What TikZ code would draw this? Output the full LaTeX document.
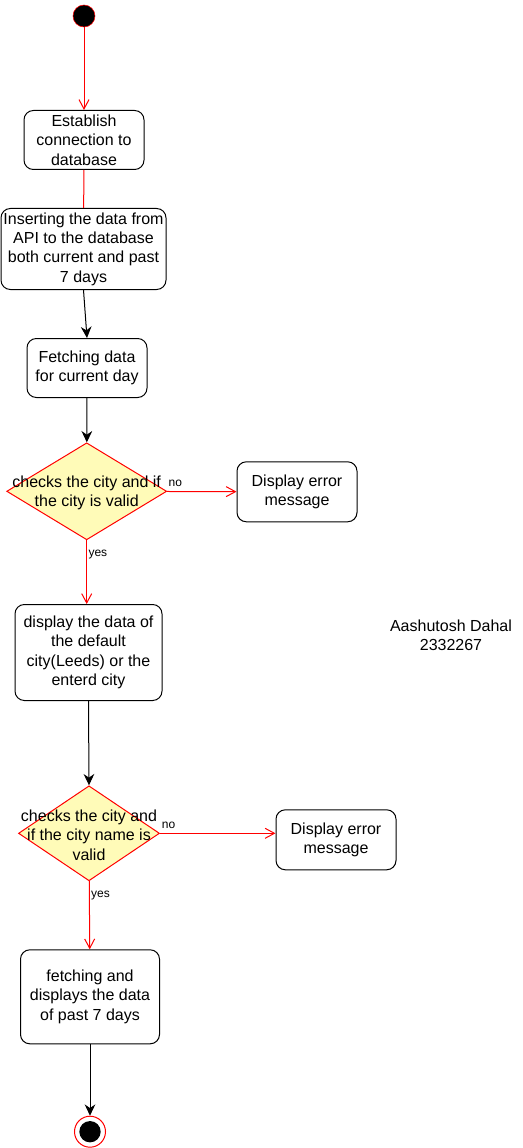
\documentclass[tikz,border=0pt]{standalone}
\usepackage{fontspec}
\setmainfont{Liberation Sans}
\usetikzlibrary{arrows.meta,shapes.geometric}

\begin{document}
\begin{tikzpicture}[x=0.75pt,y=-0.75pt,
        every node/.style={font=\fontsize{12}{14.5}\selectfont},
        act/.style={draw, rounded corners=7pt, align=center, line width=0.75pt, inner sep=0pt},
        choice/.style={draw=red, fill=yellow!28, diamond, inner sep=0pt, line width=0.75pt},
        guard/.style={font=\fontsize{9}{10}\selectfont, inner sep=1pt},
        redflow/.style={draw=red, line width=0.75pt, -{Straight Barb[length=7pt,width=7.5pt]}},
        blackflow/.style={draw=black, line width=0.75pt, -{Stealth[length=8.5pt,width=8pt]}}]
            \useasboundingbox (0,0) rectangle (522,1148);

            \node[circle, draw=red, fill=black, minimum size=16.5pt, inner sep=0pt] (start) at (84,16) {};
            \node[act, minimum width=90pt, minimum height=44.25pt] (connect) at (84,140) {Establish\\connection to\\database};
            \node[act, minimum width=123.75pt, minimum height=60.75pt] (insert) at (83.5,249) {Inserting the data from\\API to the database\\both current and past\\7 days};
            \node[act, minimum width=90pt, minimum height=44.25pt] (fetch) at (87,368) {Fetching data\\for current day};
            \node[choice, minimum width=120pt, minimum height=72.75pt] (check1) at (86.7,491.3) {};
            \node[align=center] (check1text) at (86.7,493) {checks the city and if\\the city is valid};
            \node[act, minimum width=90pt, minimum height=45pt] (error1) at (297,491.8) {Display error\\message};
            \node[act, minimum width=110.25pt, minimum height=72pt] (show) at (88.5,652.5) {display the data of\\the default\\city(Leeds) or the\\enterd city};
            \node[choice, minimum width=105.75pt, minimum height=71.25pt] (check2) at (89,833.3) {};
            \node[align=center] (check2text) at (89,835) {checks the city and\\if the city name is\\valid};
            \node[act, minimum width=90pt, minimum height=45pt] (error2) at (336,839.8) {Display error\\message};
            \node[act, minimum width=104.25pt, minimum height=70.5pt] (past) at (90,996.8) {fetching and\\displays the data\\of past 7 days};
            \node[circle, draw=red, fill=white, minimum size=23.25pt, inner sep=0pt, line width=0.75pt] (stop) at (90,1131.7) {};
            \node[circle, fill=black, minimum size=16pt, inner sep=0pt] (stopdot) at (stop.center) {};
            \node[align=center] (author) at (451,635) {Aashutosh Dahal\\2332267};

            \draw[redflow] (start) -- (connect);
            \draw[red, line width=0.75pt] (connect) -- (insert);
            \draw[blackflow] (insert.south) -- (fetch.north);
            \draw[blackflow] (fetch) -- (check1);
            \draw[redflow] (check1) -- node[guard, pos=0, anchor=south west, yshift=2pt] {no} (error1);
            \draw[redflow] (check1) -- node[guard, pos=0, anchor=north west, yshift=-6pt] {yes} (check1 |- show.north);
            \draw[blackflow] (show.south) -- (check2.north);
            \draw[redflow] (check2.east) -- node[guard, pos=0, anchor=south west, yshift=2pt] {no} (check2.east -| error2.west);
            \draw[redflow] (check2) -- node[guard, pos=0, anchor=north west, yshift=-6pt] {yes} (past);
            \draw[blackflow] (past) -- (stop);
        \end{tikzpicture}
\end{document}
